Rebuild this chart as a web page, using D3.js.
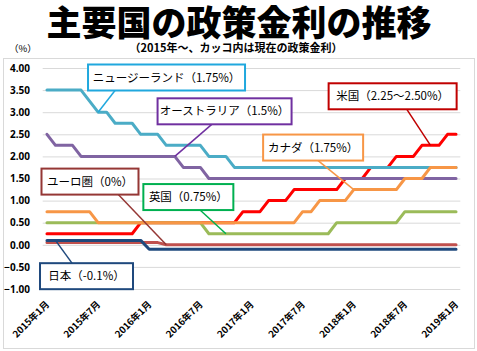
<!DOCTYPE html>
<html><head><meta charset="utf-8">
<script src="https://cdn.jsdelivr.net/npm/d3@7"></script>
<style>body{margin:0;background:#fff}</style>
</head><body><svg id="c" width="477" height="351"></svg>
<script>
// ---- data ----
const months = [
"2015年1月","2015年2月","2015年3月","2015年4月","2015年5月","2015年6月","2015年7月","2015年8月","2015年9月","2015年10月","2015年11月","2015年12月",
"2016年1月","2016年2月","2016年3月","2016年4月","2016年5月","2016年6月","2016年7月","2016年8月","2016年9月","2016年10月","2016年11月","2016年12月",
"2017年1月","2017年2月","2017年3月","2017年4月","2017年5月","2017年6月","2017年7月","2017年8月","2017年9月","2017年10月","2017年11月","2017年12月",
"2018年1月","2018年2月","2018年3月","2018年4月","2018年5月","2018年6月","2018年7月","2018年8月","2018年9月","2018年10月","2018年11月","2018年12月",
"2019年1月"];
const tickLabels = ["2015年1月","2015年7月","2016年1月","2016年7月","2017年1月","2017年7月","2018年1月","2018年7月","2019年1月"];
const yTicks = [-1,-0.5,0,0.5,1,1.5,2,2.5,3,3.5,4];

const us = [0.25,0.25,0.25,0.25,0.25,0.25,0.25,0.25,0.25,0.25,0.25,
  0.5,0.5,0.5,0.5,0.5,0.5,0.5,0.5,0.5,0.5,0.5,0.5,
  0.75,0.75,0.75, 1,1,1, 1.25,1.25,1.25,1.25,1.25,1.25,
  1.5,1.5,1.5, 1.75,1.75,1.75, 2,2,2, 2.25,2.25,2.25, 2.5,2.5];
const nz = [3.5,3.5,3.5,3.5,3.5, 3.25, 3,3, 2.75,2.75,2.75, 2.5,2.5,2.5,
  2.25,2.25,2.25,2.25,2.25, 2,2,2,
  1.75,1.75,1.75,1.75,1.75,1.75,1.75,1.75,1.75,1.75,1.75,1.75,1.75,1.75,1.75,1.75,1.75,1.75,1.75,1.75,1.75,1.75,1.75,1.75,1.75,1.75,1.75];
const au = [2.5, 2.25,2.25,2.25, 2,2,2,2,2,2,2,2,2,2,2,2, 1.75,1.75,1.75,
  1.5,1.5,1.5,1.5,1.5,1.5,1.5,1.5,1.5,1.5,1.5,1.5,1.5,1.5,1.5,1.5,1.5,1.5,1.5,1.5,1.5,1.5,1.5,1.5,1.5,1.5,1.5,1.5,1.5,1.5];
const uk = [0.5,0.5,0.5,0.5,0.5,0.5,0.5,0.5,0.5,0.5,0.5,0.5,0.5,0.5,0.5,0.5,0.5,0.5,0.5,
  0.25,0.25,0.25,0.25,0.25,0.25,0.25,0.25,0.25,0.25,0.25,0.25,0.25,0.25,0.25,
  0.5,0.5,0.5,0.5,0.5,0.5,0.5,0.5, 0.75,0.75,0.75,0.75,0.75,0.75,0.75];
const ca = [0.75,0.75,0.75,0.75,0.75,0.75,
  0.5,0.5,0.5,0.5,0.5,0.5,0.5,0.5,0.5,0.5,0.5,0.5,0.5,0.5,0.5,0.5,0.5,0.5,0.5,0.5,0.5,0.5,0.5,0.5,
  0.75,0.75, 1,1,1,1, 1.25,1.25,1.25,1.25,1.25,1.25, 1.5,1.5,1.5, 1.75,1.75,1.75,1.75];
const eu = [0.05,0.05,0.05,0.05,0.05,0.05,0.05,0.05,0.05,0.05,0.05,0.05,0.05,0.05,
  0,0,0,0,0,0,0,0,0,0,0,0,0,0,0,0,0,0,0,0,0,0,0,0,0,0,0,0,0,0,0,0,0,0,0];
const jp = [0.1,0.1,0.1,0.1,0.1,0.1,0.1,0.1,0.1,0.1,0.1,0.1,
  -0.1,-0.1,-0.1,-0.1,-0.1,-0.1,-0.1,-0.1,-0.1,-0.1,-0.1,-0.1,-0.1,-0.1,-0.1,-0.1,-0.1,-0.1,-0.1,-0.1,-0.1,-0.1,-0.1,-0.1,-0.1,-0.1,-0.1,-0.1,-0.1,-0.1,-0.1,-0.1,-0.1,-0.1,-0.1,-0.1,-0.1];

// ---- layout / style ----
const series = [
  {key:"us", values:us, color:"#FF0000"},
  {key:"nz", values:nz, color:"#4BACC6"},
  {key:"au", values:au, color:"#8064A2"},
  {key:"uk", values:uk, color:"#9BBB59"},
  {key:"ca", values:ca, color:"#F79646"},
  {key:"eu", values:eu, color:"#C0504D"},
  {key:"jp", values:jp, color:"#1F497D"}
];
const notes = [
  {text:"ニュージーランド（1.75%）", key:"nz", at:6,  cx:14.03, cy:3.785, w:157, lx:-51.5, top:false, color:"#20A8DE"},
  {text:"オーストラリア（1.5%）",   key:"au", at:15, cx:20.84, cy:3.02,  w:134, lx:-12.8, top:false, color:"#7030A0"},
  {text:"米国（2.25～2.50%）",      key:"us", at:45, cx:40.56, cy:3.36,  w:128, lx:14.2,  top:false, color:"#C00000"},
  {text:"カナダ（1.75%）",          key:"ca", at:36, cx:31.23, cy:2.20,  w:100, lx:5,     top:false, color:"#F79646"},
  {text:"ユーロ圏（0%）",           key:"eu", at:14, cx:5.05,  cy:1.43,  w:97,  lx:28.3,  top:false, color:"#953735"},
  {text:"英国（0.75%）",            key:"uk", at:21, cx:16.59, cy:1.08,  w:90,  lx:11.7,  top:false, color:"#00B050"},
  {text:"日本（-0.1%）",            key:"jp", at:1,  cx:4.64,  cy:-0.71, w:93,  lx:-14.5, top:true,  color:"#1F497D"}
];

const svg = d3.select("#c");
const x = d3.scaleBand().domain(months).range([42.7, 460.3]);
const xi = i => x(months[i]) + x.bandwidth()/2;
const idx = d3.scaleLinear().domain([0, months.length-1]).range([xi(0), xi(months.length-1)]);
const y = d3.scaleLinear().domain([-1, 4]).range([289, 68]);

// outer border
svg.append("rect").attr("x",3.5).attr("y",58.5).attr("width",471).attr("height",290)
  .attr("fill","none").attr("stroke","#D9D9D9").attr("stroke-width",1);

// title
svg.append("text").attr("x",239).attr("y",36).attr("text-anchor","middle")
  .style("font-family","'Noto Sans CJK JP'").style("font-weight",900).style("font-size","35px")
  .attr("fill","#000").text("主要国の政策金利の推移");
svg.append("text").attr("x",236).attr("y",52).attr("text-anchor","middle")
  .style("font-family","'Noto Sans CJK JP'").style("font-weight",700).style("font-size","11px")
  .text("（2015年～、カッコ内は現在の政策金利）");
svg.append("text").attr("x",9).attr("y",52)
  .style("font-family","'Noto Sans CJK JP'").style("font-size","9.5px")
  .text("（%）");

// grid
const yAxis = d3.axisLeft(y).tickValues(yTicks).tickFormat(d3.format(".2f")).tickSize(-(460.3-42.7)).tickPadding(12);
const gy = svg.append("g").attr("transform","translate(42.7,0)").call(yAxis);
gy.select(".domain").remove();
gy.selectAll(".tick line").attr("stroke","#D9D9D9");
gy.selectAll(".tick text").attr("x",-12.7).style("font-family","'Noto Sans'").style("font-weight",700).style("font-size","10px").attr("fill","#000");

// x labels
const xAxis = d3.axisBottom(x).tickValues(tickLabels).tickSize(0);
const gx = svg.append("g").call(xAxis);
gx.select(".domain").remove();
gx.selectAll(".tick").attr("transform", d => `translate(${x(d)+x.bandwidth()/2},0)`);
gx.selectAll(".tick text").attr("y",null).attr("dy",null)
  .attr("transform","translate(3,305) rotate(-45)")
  .attr("text-anchor","end")
  .style("font-family","'Noto Sans CJK JP'").style("font-weight",700).style("font-size","9.5px").attr("fill","#000");

// lines
const line = d3.line().x((d,i)=>xi(i)).y(d=>y(d));
svg.append("g").selectAll("path").data(series).join("path")
  .attr("d", s => line(s.values)).attr("fill","none")
  .attr("stroke", s => s.color).attr("stroke-width",3)
  .attr("stroke-linejoin","round").attr("stroke-linecap","round");

// annotations
const byKey = Object.fromEntries(series.map(s=>[s.key,s]));
const bh = 26;
const ng = svg.append("g").selectAll("g").data(notes).join("g");
ng.append("line")
  .attr("x1", n => idx(n.cx) + n.lx)
  .attr("y1", n => y(n.cy) + (n.top ? -bh/2 : bh/2))
  .attr("x2", n => xi(n.at))
  .attr("y2", n => y(byKey[n.key].values[n.at]))
  .attr("stroke", n => n.color).attr("stroke-width",1.5);
ng.append("rect")
  .attr("x", n => idx(n.cx) - n.w/2).attr("y", n => y(n.cy) - bh/2)
  .attr("width", n => n.w).attr("height", bh)
  .attr("fill","#fff").attr("stroke", n => n.color).attr("stroke-width",2);
ng.append("text")
  .attr("x", n => idx(n.cx)).attr("y", n => y(n.cy)).attr("dy","0.36em")
  .attr("text-anchor","middle")
  .style("font-family","'Noto Sans CJK JP'").style("font-size","11.5px").attr("fill","#000")
  .text(n => n.text);
</script></body></html>
